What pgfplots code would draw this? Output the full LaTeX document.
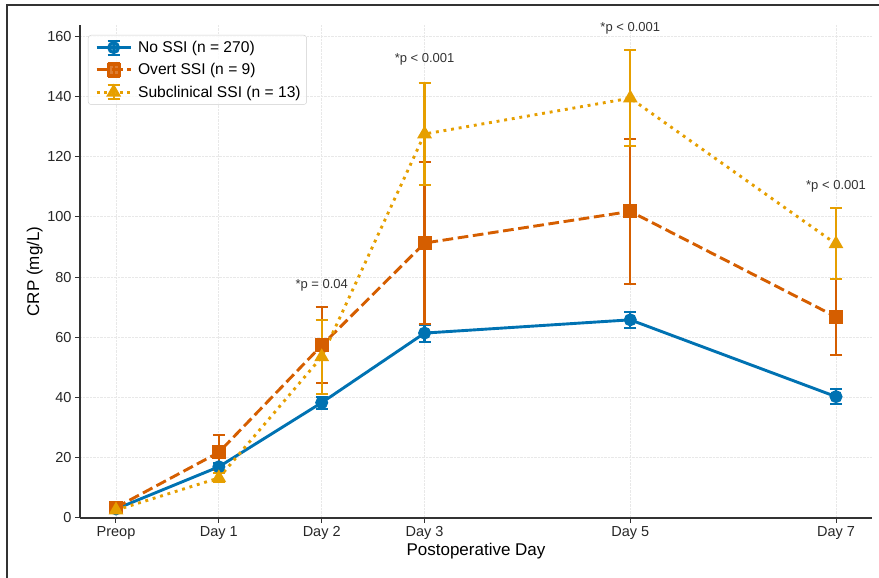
\documentclass[border=0pt]{standalone}
\usepackage{pgfplots}
\usepackage{pgfplotstable}
\pgfplotsset{compat=1.18}
\usepackage{fontspec}
\setmainfont{Liberation Sans}

\definecolor{cblue}{HTML}{0072B2}
\definecolor{corange}{HTML}{D55E00}
\definecolor{cyellow}{HTML}{E69F00}
\definecolor{axisgray}{HTML}{333333}

% day, mean CRP, error
\pgfplotstableread{
x y e
0 3.0 0.6
1 17.0 1.2
2 38.3 2.0
3 61.4 2.8
5 65.8 2.7
7 40.3 2.4
}\nossi
\pgfplotstableread{
x y e
0 3.5 1.0
1 21.8 5.7
2 57.3 12.6
3 91.3 27.0
5 101.8 24.1
7 66.8 12.6
}\overt
\pgfplotstableread{
x y e
0 2.6 0.8
1 13.3 1.5
2 53.5 12.3
3 127.5 17.0
5 139.4 15.9
7 91.0 11.8
}\subclin

\begin{document}
\begin{tikzpicture}
\useasboundingbox (0,0) rectangle (879pt,578pt);
\draw[line width=1.8pt, axisgray] (7pt,-20pt) rectangle (900pt,573pt);
\begin{axis}[
  at={(80pt,60pt)}, anchor=south west,
  scale only axis, width=792pt, height=493pt,
  xmin=-0.35, xmax=7.35, ymin=0, ymax=163.7,
  axis x line*=bottom, axis y line*=left,
  axis line style={axisgray, line width=1.2pt},
  every tick/.style={axisgray, line width=1pt},
  tick align=outside, major tick length=5pt,
  xtick={0,1,2,3,5,7},
  xticklabels={Preop,Day 1,Day 2,Day 3,Day 5,Day 7},
  ytick={0,20,...,160},
  /pgf/number format/assume math mode=true,
  tick label style={font=\fontsize{14.5}{17}\selectfont, text=black!85},
  grid=major,
  major grid style={densely dotted, gray!18, line width=0.8pt},
  xlabel={Postoperative Day}, ylabel={CRP (mg/L)},
  label style={font=\fontsize{17}{20}\selectfont},
  xlabel style={at={(axis description cs:0.5,-0.067)}, anchor=center},
  ylabel style={at={(axis description cs:-0.057,0.5)}, anchor=center},
  clip=false,
  legend style={at={(axis description cs:0.0101,0.9797)}, anchor=north west,
    draw=gray!40, rounded corners=3pt, fill=white, fill opacity=0.8,
    text opacity=1, draw opacity=1,
    font=\fontsize{15.6}{18}\selectfont, row sep=5.5pt,
    inner xsep=4pt, inner ysep=4pt},
  legend cell align=left,
  legend image code/.code={
    \path (0pt,0pt) (41pt,0pt);
    \draw[#1,mark=none] (3pt,0pt) -- (37pt,0pt);
    \draw[#1,solid,mark=none,line width=2pt] (20pt,-7pt) -- (20pt,7pt)
      (14pt,-7pt) -- (26pt,-7pt) (14pt,7pt) -- (26pt,7pt);
    \draw[#1,solid] plot coordinates {(20pt,0pt)};
  },
  error bars/y dir=both, error bars/y explicit,
  error bars/error bar style={line width=2.2pt, solid},
  error bars/error mark options={rotate=90, mark size=6pt, line width=2pt, solid},
]
\addplot[cblue, line width=2.9pt, mark=*, mark size=5pt, mark options={solid}]
  table[x=x, y=y, y error=e] {\nossi};
\addlegendentry{No SSI (n = 270)}
\addplot[corange, line width=2.9pt, dash pattern=on 10.7pt off 4.6pt,
  mark=square*, mark size=5.5pt, mark options={solid}]
  table[x=x, y=y, y error=e] {\overt};
\addlegendentry{Overt SSI (n = 9)}
\addplot[cyellow, line width=2.9pt, dash pattern=on 2.9pt off 4.8pt,
  mark=triangle*, mark size=5.7pt, mark options={solid}]
  table[x=x, y=y, y error=e] {\subclin};
\addlegendentry{Subclinical SSI (n = 13)}

\begin{scope}[every node/.style={font=\fontsize{13}{15}\selectfont, text=axisgray}]
\node at (axis cs:2,77.3) {*p = 0.04};
\node at (axis cs:3,152.2) {*p < 0.001};
\node at (axis cs:5,162.6) {*p < 0.001};
\node at (axis cs:7,110.2) {*p < 0.001};
\end{scope}
\end{axis}
\end{tikzpicture}
\end{document}
